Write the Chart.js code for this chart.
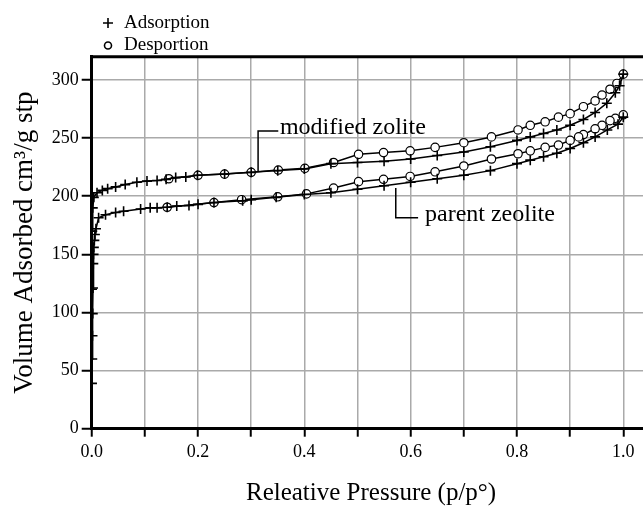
<!DOCTYPE html>
<html><head><meta charset="utf-8">
<script src="https://cdn.jsdelivr.net/npm/chart.js@4.4.1/dist/chart.umd.min.js"></script>
<style>html,body{margin:0;padding:0;background:#fff;overflow:hidden}#wrap{width:643px;height:506px;overflow:hidden}</style>
</head><body>
<div id="wrap"><canvas id="c" width="657" height="506"></canvas></div>
<script>
// ---- data (relative pressure p/p0, volume adsorbed cm3/g stp) ----
const modAdsP = [0.0005,0.001,0.002,0.004,0.01,0.02,0.03,0.045,0.063,0.085,0.104,0.123,0.14,0.158,0.177,0.199,0.25,0.30,0.35,0.40,0.45,0.50,0.55,0.60,0.65,0.70,0.75,0.80,0.825,0.85,0.875,0.90,0.925,0.947,0.969,0.985,0.993,1.0];
const modAdsV = [120,170,190,199,203,205,206.5,208,210,212,213,213.5,214.5,216,216.5,218,219,220.5,222,223.5,228,229,230,232,235,238,242.5,248,251,254,257,261,266,272,280,289,295,305];
const modDesP = [1.0,0.988,0.975,0.96,0.947,0.925,0.9,0.878,0.853,0.825,0.802,0.752,0.70,0.646,0.599,0.549,0.502,0.455,0.401,0.351,0.30,0.25,0.20,0.145];
const modDesV = [305,297,292,287,282,277,271,268,264,261,257,251,246,242,239,237.5,236,229,224,222.5,220.5,219,218,215];
const parAdsP = [0.0005,0.001,0.0015,0.002,0.0025,0.003,0.0035,0.004,0.005,0.006,0.008,0.013,0.026,0.045,0.06,0.092,0.11,0.123,0.142,0.16,0.183,0.20,0.23,0.284,0.30,0.347,0.40,0.45,0.50,0.55,0.60,0.65,0.70,0.75,0.80,0.825,0.85,0.875,0.90,0.925,0.947,0.97,0.99,1.0];
const parAdsV = [39,60,80,99,121,142,150,156,162,167,172,181.5,184,186,187,189,190,190,190.5,191.5,192,193,194.5,196,197,199,201.5,203,206,209,212,215,218,222,228,231,234,237,241,246,251,257,262,268];
const parDesP = [1.0,0.985,0.975,0.96,0.947,0.925,0.916,0.9,0.878,0.853,0.825,0.802,0.752,0.70,0.646,0.599,0.549,0.502,0.455,0.404,0.35,0.282,0.23,0.142];
const parDesV = [270,267,265,261,258,253,251,248,244,242,239,236.5,232,226,221,217,214.5,212.5,207,202,199.5,197,194.5,190.5];
const xTickLabels = ['0.0','0.2','0.4','0.6','0.8','1.0'];
const yTickLabels = ['0','50','100','150','200','250','300'];
const legendLabels = ['Adsorption','Desportion'];
const seriesNames = ['modified zolite','parent zeolite'];

function pts(px, vy){ return px.map((p,i)=>({x:p, y:vy[i]})); }

const FONT = 'Liberation Serif';
const ads = {pointStyle:'cross', pointRadius:5, pointBorderWidth:1.6, borderColor:'#000', pointBorderColor:'#000', borderWidth:1.5, tension:0, showLine:true, fill:false};
const des = {pointStyle:'circle', pointRadius:4.2, pointBorderWidth:1.2, borderColor:'#000', pointBorderColor:'#000', pointBackgroundColor:'#fff', borderWidth:1.5, tension:0, showLine:true, fill:false};

const notes = [
  {text: seriesNames[0], path:[[0.313,221],[0.313,256],[0.351,256]], at:[0.354,259]},
  {text: seriesNames[1], path:[[0.572,207],[0.572,181.4],[0.614,181.4]], at:[0.627,184]}
];

const decor = {
  id:'decor',
  afterDraw(chart){
    const ctx = chart.ctx, a = chart.chartArea, xs = chart.scales.x, ys = chart.scales.y;
    ctx.save();
    // top frame line
    ctx.strokeStyle = '#000'; ctx.lineWidth = 3;
    ctx.beginPath(); ctx.moveTo(a.left-1.5, a.top); ctx.lineTo(chart.width, a.top); ctx.stroke();
    // annotations
    ctx.lineWidth = 1.5;
    ctx.font = '24px "' + FONT + '"'; ctx.fillStyle = '#000'; ctx.textBaseline = 'middle'; ctx.textAlign = 'left';
    notes.forEach(n => {
      ctx.beginPath();
      n.path.forEach((p,i) => { const X = xs.getPixelForValue(p[0]), Y = ys.getPixelForValue(p[1]); i ? ctx.lineTo(X,Y) : ctx.moveTo(X,Y); });
      ctx.stroke();
      ctx.fillText(n.text, xs.getPixelForValue(n.at[0]), ys.getPixelForValue(n.at[1]));
    });
    // legend
    ctx.font = '19px "' + FONT + '"';
    const items = [{style:'cross', r:5, y:23}, {style:'circle', r:3.5, y:45.5}];
    items.forEach((it,i) => {
      ctx.lineWidth = 1.6; ctx.fillStyle = '#fff'; ctx.strokeStyle = '#000';
      Chart.helpers.drawPoint(ctx, {pointStyle: it.style, radius: it.r, borderWidth: 1.6}, 108, it.y);
      ctx.fillStyle = '#000';
      ctx.fillText(legendLabels[i], 124, it.y);
    });
    ctx.restore();
  }
};

new Chart(document.getElementById('c'), {
  type:'scatter',
  data:{datasets:[
    Object.assign({label:seriesNames[0]+' adsorption', data:pts(modAdsP, modAdsV)}, ads),
    Object.assign({label:seriesNames[0]+' desorption', data:pts(modDesP, modDesV)}, des),
    Object.assign({label:seriesNames[1]+' adsorption', data:pts(parAdsP, parAdsV)}, ads),
    Object.assign({label:seriesNames[1]+' desorption', data:pts(parDesP, parDesV)}, des)
  ]},
  options:{
    responsive:false, animation:false, devicePixelRatio:1,
    layout:{padding:{top:56.7, left:0, right:0, bottom:0}},
    plugins:{legend:{display:false}, tooltip:{enabled:false}},
    scales:{
      x:{type:'linear', min:0, max:1.051,
        afterFit(s){ s.height = 77.3; s.paddingRight = 0; s.paddingLeft = 0; },
        border:{color:'#000', width:3},
        grid:{color:'#aaaaaa', lineWidth:1.5, tickColor:'#000', tickWidth:2, tickLength:8},
        ticks:{stepSize:0.1, includeBounds:false, autoSkip:false, maxRotation:0, padding:5, color:'#000',
          font:{family:FONT, size:18},
          callback(v){ const k = Math.round(v*10); return k % 2 === 0 ? xTickLabels[k/2] : ''; }},
        title:{display:true, text:'Releative Pressure (p/p°)', color:'#000', font:{family:FONT, size:25, lineHeight:1}, padding:{top:0, bottom:0}}
      },
      y:{min:0, max:320,
        afterFit(s){ s.width = 91.7; s.paddingTop = 0; s.paddingBottom = 0; },
        border:{color:'#000', width:3},
        grid:{color:'#aaaaaa', lineWidth:1.5, tickColor:'#000', tickWidth:2, tickLength:10},
        ticks:{stepSize:50, includeBounds:false, padding:3, color:'#000', font:{family:FONT, size:18},
          callback(v){ return yTickLabels[Math.round(v/50)]; }},
        title:{display:true, text:'Volume Adsorbed cm³/g stp', color:'#000', font:{family:FONT, size:27, lineHeight:1}, padding:{top:11, bottom:0}}
      }
    }
  },
  plugins:[decor]
});
</script>
</body></html>
